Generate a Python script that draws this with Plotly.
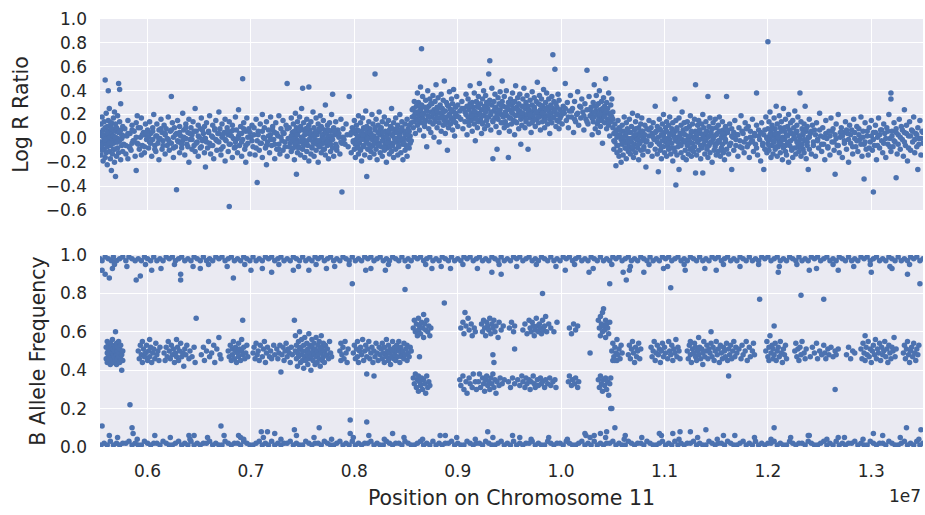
import plotly.graph_objects as go

# ---------------- data (positions in units of 10 kb, values in hundredths) ----------------
LRR_LEFT = [(554,5),(554,-8),(555,12),(555,-3),(555,-14),(556,2),(556,18),(556,-10),(557,7),(557,-5),(557,-19),(558,14),(558,0),(558,-9),(559,49),(559,9),(559,-4),(559,-16),(560,3),(560,21),(560,-12),(561,-7),(561,10),(561,-22),(562,40),(562,6),(562,-2),(562,15),(563,-11),(563,1),(563,25),(564,-6),(564,11),(564,-17),(565,4),(565,-27),(565,13),(566,-1),(566,8),(566,-13),(567,17),(567,-4),(567,2),(568,-9),(568,22),(568,-20),(569,6),(569,-32),(569,12),(570,-3),(570,9),(570,-15),(571,0),(571,19),(571,-8),(572,46),(572,5),(572,-12),(573,41),(573,-2),(573,14),(574,7),(574,-18),(574,29),(575,-6),(575,3),(576,10),(576,-11),
(577,-5),(578,8),(579,-13),(580,2),(581,15),(581,-17),(582,-7),(583,4),(584,-10),(585,11),(585,-4),(586,-2),(587,6),(588,-15),(589,-27),(589,13),(590,-4),(590,19),(591,9),(592,-9),(593,1),(594,17),(594,-14),(595,-6),(596,5),(597,-12),(597,3),(598,12),(599,-1),(600,7),
(601,-8),(602,14),(602,-3),(603,4),(604,-15),(605,9),(605,-1),(606,20),(607,-6),(608,2),(608,-11),(609,12),(610,-4),(611,7),(611,-18),(612,0),(613,16),(614,-9),(614,5),(615,-2),(616,11),(617,-13),(617,3),(618,8),(619,-6),(620,18),(620,-1),(621,-10),(622,6),(623,35),(623,-4),(624,13),(625,-16),(625,1),(626,9),(627,-7),(628,-43),(628,4),(629,15),(630,-3),(631,-12),(631,10),(632,2),(633,-8),(634,21),(634,-2),(635,7),(636,-14),(637,0),(637,12),(638,-5),(639,5),(640,-20),(640,16),(641,-1),(642,9),(643,-9),(643,3),(644,14),(645,-6),(646,25),(646,-11),(647,6),(648,-3),(649,11),(649,-15),(650,1),(651,8),(652,-7),(652,17),(653,-2),(654,4),(655,-12),(655,10),(656,-24),(656,0),(657,13),(658,-8),(659,6),(660,-4),(660,19),(661,-13),(662,2),(663,11),(663,-6),(664,-17),(665,7),(666,-1),(666,15),(667,-10),(668,4),(669,-3),(669,22),(670,8),(671,-14),(672,1),(672,12),(673,-7),(674,5),(675,-19),(675,16),(676,-2),(677,9),(678,-11),(678,3),(679,-57),(679,14),(680,-5),(681,6),(682,-16),(682,11),(683,0),(684,-8),(685,18),(685,-3),(686,7),(687,-12),(688,2),(688,24),(689,-6),(690,10),(691,-15),(691,4),(692,50),(692,-1),(693,13),(694,-9),(695,6),(695,-20),(696,17),(697,-4),(698,8),(699,-13),(700,1),
(701,11),(702,-7),(703,3),(704,-14),(705,16),(706,-37),(706,-2),(707,6),(708,-10),(709,12),(710,-4),(711,20),(711,-16),(712,1),(713,9),(714,-8),(715,-22),(715,14),(716,-3),(717,7),(718,-12),(719,3),(719,18),(720,-6),(721,10),(722,-1),(723,-17),(723,5),(724,13),(725,-9),(726,2),(727,19),(727,-5),(728,-13),(729,8),(730,-2),(731,15),(731,-10),(732,4),(733,-7),(734,11),(735,46),(735,-15),(736,0),(737,9),(738,-4),(739,17),(739,-11),(740,5),(740,-2),(741,12),(741,-8),(742,-18),(742,3),(743,21),(743,-5),(744,-30),(744,9),(744,-1),(745,14),(745,-12),(746,6),(746,-7),(747,-3),(747,18),(748,10),(748,-14),(749,1),(749,25),(750,42),(750,-9),(750,7),(751,-4),(751,13),(752,3),(752,-16),(753,8),(753,-2),(754,-11),(754,16),(755,4),(755,-6),(756,43),(756,11),(756,-19),(757,0),(757,7),(758,-13),(758,14),(759,2),(759,-8),(760,22),(760,-3),(761,9),(761,-15),(762,5),(762,-1),(763,17),(763,-10),(764,3),(764,-5),(765,12),(765,-20),(766,6),(766,-7),(767,-2),(767,19),(768,10),(768,-12),(769,1),(769,8),(770,-4),(770,15),(771,-9),(771,4),(772,28),(772,-14),(773,7),(773,-1),(774,11),(774,-6),(775,-17),(775,2),(776,13),(776,-3),(777,-11),(777,6),(778,20),(778,0),(779,37),(779,-8),(780,9),(780,-15),(781,3),(782,-5),(782,14),(783,-10),(784,7),(785,1),(786,-13),(787,16),(788,-4),(788,-45),(789,8),(790,-1),
(792,12),(794,-7),(795,35),(796,3),(797,-12),(798,9),(799,-3),(800,15),(800,-9),(801,4),(801,-16),(802,-1),(802,11),(803,7),(803,-6),(804,19),(804,-13),(805,2),(805,-4),(806,13),(806,-10),(807,6),(807,-19),(808,0),(808,17),(809,-7),(809,9),(810,3),(810,-14),(811,23),(811,-2),(812,-32),(812,10),(812,5),(813,-9),(813,1),(814,14),(814,-5),(815,-16),(815,8),(816,4),(816,-11),(817,20),(817,-1),(818,-6),(818,12),(819,2),(819,-13),(820,54),(820,7),(820,-3),(821,16),(821,-9),(822,0),(822,-18),(823,11),(823,5),(824,-4),(824,22),(825,-12),(825,3),(826,9),(826,-7),(827,-15),(827,14),(828,1),(828,-2),(829,18),(829,-10),(830,6),(830,-5),(831,-20),(831,12),(832,3),(832,-8),(833,15),(833,-1),(834,-13),(834,7),(835,10),(835,-4),(836,25),(836,-11),(837,2),(837,-6),(838,13),(838,-16),(839,5),(839,0),(840,-9),(840,17),(841,8),(841,-3),(842,-14),(842,11),(843,1),(843,-7),(844,20),(844,4),(845,-12),(845,-2),(846,9),(846,14),(847,-5),(847,-18),(848,6),(848,0),(849,12),(849,-10),(850,3),(850,-6),(851,16),(851,-15),(852,-1),(852,8),(853,-8),(853,11),(854,2),(854,-4),(855,13)]

LRR_LEFT_CORE = [(555,-6),(557,3),(559,-1),(561,5),(563,-4),(565,8),(567,-9),(569,1),(571,-3),(573,6),(575,0),(577,2),(579,-6),(581,4),(583,-8),(585,7),(587,-2),(589,1),(591,-5),(593,9),(595,3),(597,-7),(599,5),(601,1),(603,-4),(605,6),(607,-9),(609,2),(611,-1),(613,8),(615,-6),(617,4),(619,0),(621,-3),(623,7),(625,-8),(627,3),(629,-2),(631,5),(633,-5),(635,1),(637,9),(639,-7),(641,4),(643,-1),(645,6),(647,-4),(649,2),(651,-8),(653,7),(655,0),(657,-3),(659,5),(661,-6),(663,1),(665,8),(667,-2),(669,4),(671,-9),(673,3),(675,-1),(677,6),(679,-5),(681,2),(683,7),(685,-7),(687,0),(689,4),(691,-3),(693,8),(695,-6),(697,1),(699,5),(701,-2),(703,9),(705,-8),(707,3),(709,-4),(711,6),(713,0),(715,-6),(717,2),(719,-1),(721,7),(723,-5),(725,4),(727,-9),(729,1),(731,5),(733,-3),(735,8),(737,-7),(739,2),(741,-1),(742,6),(743,-4),(745,3),(746,-8),(747,7),(749,-2),(750,1),(751,-6),(753,5),(754,-3),(755,9),(757,-1),(758,4),(759,-7),(761,2),(762,-4),(763,6),(765,-2),(766,8),(767,-6),(769,3),(770,-9),(771,0),(773,5),(774,-3),(775,7),(777,-5),(778,2),(779,-1),(781,6),(783,-7),(785,4),(787,-3),(789,1),(791,-5),(793,3),(797,5),(799,-2),(800,7),(801,-5),(803,1),(804,-8),(805,6),(807,-1),(808,3),(809,-6),(811,8),(812,-3),(813,0),(815,5),(816,-7),(817,2),(819,-4),(820,9),(821,-1),(823,-6),(824,4),(825,7),(827,-2),(828,5),(829,-8),(831,1),(832,-4),(833,6),(835,-7),(836,3),(837,8),(839,-3),(840,0),(841,5),(843,-6),(844,2),(845,7),(847,-1),(848,-4),(849,4),(851,-7),(852,3),(853,6),(855,-2)]

LRR_GAIN = [(856,18),(857,25),(857,9),(858,31),(858,14),(859,21),(859,4),(860,27),(860,16),(861,38),(861,11),(862,22),(862,30),(863,7),(863,19),(864,43),(864,24),(865,75),(865,13),(865,28),(866,17),(866,35),(867,2),(867,21),(868,26),(868,10),(869,32),(869,15),(870,-7),(870,23),(871,19),(871,40),(872,8),(872,27),(873,14),(873,33),(874,22),(874,5),(875,29),(875,18),(876,12),(876,36),(877,24),(877,1),(878,16),(878,31),(879,45),(879,20),(880,9),(880,26),(881,34),(881,17),(882,13),(882,-3),(883,28),(883,21),(884,6),(884,37),(885,19),(885,25),(886,11),(886,32),(887,48),(887,15),(888,23),(888,4),(889,30),(889,18),(890,-10),(890,14),(891,27),(891,9),(892,20),(892,39),(893,12),(893,24),(894,33),(894,16),(895,7),(895,29),(896,22),(896,41),(897,18),(897,2),(898,26),(898,13),(899,35),(899,19),(900,10),(900,28),
(902,23),(903,16),(904,31),(905,8),(906,25),(907,14),(908,37),(908,20),(909,27),(909,3),(910,18),(910,33),(911,11),(911,24),(912,29),(912,44),(913,15),(913,21),(914,6),(914,30),(915,26),(915,17),(916,38),(916,12),(917,22),(917,-2),(918,31),(918,19),(919,9),(919,27),(920,35),(920,14),(921,21),(921,46),(922,16),(922,29),(923,4),(923,24),(924,33),(924,13),(925,19),(925,40),(926,27),(926,8),(927,22),(927,36),(928,15),(928,30),(929,25),(929,11),(930,54),(930,18),(931,65),(931,32),(932,20),(932,7),(933,28),(933,42),(934,-17),(934,14),(935,23),(935,31),(936,17),(936,37),(937,10),(937,26),(938,-9),(938,21),(939,34),(939,16),(940,29),(940,5),(941,24),(941,39),(942,13),(942,20),(943,31),(943,48),(944,18),(944,27),(945,9),(945,35),(946,22),(946,14),(947,40),(947,26),(948,11),(948,19),(949,30),(949,-16),(950,24),(950,6),(951,17),(951,33),(952,28),(952,12),(953,21),(953,38),(954,15),(954,25),(955,31),(955,3),(956,19),(956,44),(957,26),(957,13),(958,34),(958,20),(959,8),(959,29),(960,23),(960,37),(961,16),(961,-5),(962,27),(962,11),(963,33),(963,21),(964,18),(964,42),(965,25),(965,9),(966,30),(966,14),(967,20),(967,36),(968,27),(968,-9),(969,12),(969,24),(970,32),(970,17),(971,22),(971,5),(972,39),(972,28),(973,15),(973,19),(974,26),(974,34),(975,10),(975,23),(976,31),(976,16),(977,21),(977,47),(978,13),(978,29),(979,36),(979,18),(980,24),(980,7),(981,33),(981,20),(982,14),(982,27),(983,41),(983,22),(984,17),(984,9),(985,30),(985,25),(986,19),(986,38),(987,12),(987,26),(988,23),(988,33),(989,16),(989,4),(990,28),(990,21),(991,35),(991,13),(992,70),(992,25),(993,18),(993,31),(994,58),(994,22),(995,10),(995,29),(996,26),(996,15),(997,20),(997,37),(998,32),(998,8),(999,24),(999,17),
(1000,19),(1001,12),(1002,27),(1003,21),(1004,46),(1005,15),(1006,30),(1007,9),(1008,23),(1009,36),(1010,18),(1011,25),(1012,5),(1013,31),(1014,14),(1015,20),(1016,39),(1017,11),(1018,27),(1019,17),(1020,33),(1021,22),(1022,7),(1023,29),(1024,16),(1025,57),(1025,24),(1026,12),(1027,35),(1028,19),(1029,26),(1030,3),(1030,21),(1031,30),(1031,14),(1032,45),(1032,18),(1033,8),(1033,27),(1034,23),(1034,36),(1035,12),(1035,20),(1036,29),(1036,5),(1037,17),(1037,40),(1038,24),(1038,10),(1039,31),(1039,15),(1040,22),(1040,-4),(1041,19),(1041,34),(1042,13),(1042,27),(1043,50),(1043,21),(1044,8),(1044,30),(1045,16),(1045,25),(1046,38),(1046,11),(1047,20),(1047,2),(1048,28),(1048,14),(1049,18),(1049,33),(1050,9),(1050,22)]

LRR_GAIN_CORE = [(856,24),(858,19),(860,22),(862,15),(864,27),(866,20),(868,13),(870,25),(872,18),(874,29),(876,21),(878,14),(880,23),(882,26),(884,17),(886,22),(888,12),(890,28),(892,19),(894,24),(896,15),(898,21),(901,18),(904,25),(907,22),(910,14),(912,27),(914,19),(916,23),(918,16),(920,26),(922,20),(924,12),(926,24),(928,18),(930,29),(932,22),(934,15),(936,25),(938,19),(940,23),(942,28),(944,13),(946,21),(948,26),(950,17),(952,22),(954,30),(956,14),(958,24),(960,19),(962,21),(964,27),(966,16),(968,23),(970,20),(972,13),(974,25),(976,22),(978,18),(980,28),(982,21),(984,15),(986,24),(988,19),(990,26),(992,17),(994,23),(996,20),(998,14),(1001,22),(1004,25),(1007,18),(1010,23),(1013,16),(1016,21),(1019,26),(1022,19),(1025,14),(1028,24),(1030,17),(1032,22),(1034,27),(1036,15),(1038,20),(1040,25),(1042,18),(1044,23),(1046,14),(1048,21),(1050,16)]

LRR_RIGHT = [(1051,4),(1051,-9),(1052,12),(1052,-3),(1053,-23),(1053,7),(1054,-12),(1054,1),(1055,15),(1055,-6),(1056,-15),(1056,9),(1057,3),(1057,-10),(1058,-1),(1058,-20),(1059,11),(1059,-5),(1060,6),(1060,-14),(1061,-2),(1061,18),(1062,-8),(1062,2),(1063,13),(1063,-17),(1064,-4),(1064,8),(1065,-11),(1065,0),(1066,16),(1066,-7),(1067,5),(1067,-13),(1068,-3),(1068,10),(1069,-9),(1069,21),(1070,1),(1070,-16),(1071,7),(1071,-5),(1072,-12),(1072,14),(1073,3),(1073,-1),(1074,-8),(1074,19),(1075,9),(1075,-18),(1076,-4),(1076,5),(1077,12),(1077,-10),(1078,-2),(1078,17),(1079,-14),(1079,6),(1080,0),(1080,-7),(1081,11),(1082,-24),(1082,-3),(1083,8),(1084,-11),(1085,15),(1085,2),(1086,-6),(1087,9),(1088,-15),(1088,4),(1089,13),(1090,-1),(1091,-9),(1091,27),(1092,6),(1093,-13),(1093,10),(1094,-28),(1094,1),(1095,16),(1095,-5),(1096,-10),(1096,7),(1097,3),(1097,-17),(1098,12),(1098,-2),(1099,-7),(1099,20),(1100,5),(1100,-12),
(1101,-3),(1101,9),(1102,14),(1102,-15),(1103,0),(1103,-6),(1104,11),(1104,-9),(1105,-1),(1105,18),(1106,-13),(1106,4),(1107,8),(1107,-4),(1108,-19),(1108,13),(1109,2),(1109,-8),(1110,33),(1110,-11),(1110,6),(1111,-39),(1111,15),(1111,-2),(1112,-14),(1112,9),(1113,1),(1113,-7),(1114,17),(1114,-26),(1115,-5),(1115,4),(1116,11),(1116,-12),(1117,-1),(1117,22),(1118,7),(1118,-16),(1119,-3),(1119,13),(1120,3),(1120,-10),(1121,-18),(1121,8),(1122,14),(1122,-6),(1123,0),(1123,-13),(1124,10),(1124,-2),(1125,-9),(1125,19),(1126,5),(1126,-15),(1127,-4),(1127,12),(1128,1),(1128,-11),(1129,16),(1129,-7),(1130,45),(1130,-29),(1130,6),(1131,-14),(1131,2),(1132,11),(1132,-3),(1133,-10),(1133,15),(1134,-1),(1134,7),(1135,-17),(1135,4),(1136,12),(1136,-8),(1137,-29),(1137,20),(1137,0),(1138,-5),(1138,9),(1139,-13),(1139,3),(1140,14),(1140,-2),(1141,-9),(1141,6),(1142,35),(1142,-16),(1142,1),(1143,10),(1143,-6),(1144,-12),(1144,17),(1145,-3),(1145,5),(1146,8),(1146,-20),(1147,-1),(1147,13),(1148,-10),(1148,2),(1149,16),(1149,-7),(1150,-14),(1150,9),(1151,4),(1151,-4),(1152,11),(1152,-11),(1153,-2),(1153,18),(1154,6),(1154,-15),(1155,-8),(1155,1),(1156,14),(1156,-5),(1157,-12),(1157,7),(1158,3),(1158,-18),(1159,10),(1159,-1),(1160,35),(1160,-9),
(1161,5),(1162,-13),(1163,12),(1164,-4),(1165,-26),(1165,8),(1166,1),(1167,-10),(1168,15),(1169,-6),(1170,3),(1171,-15),(1172,9),(1173,-2),(1174,19),(1175,-8),(1176,4),(1177,-12),(1178,13),(1179,0),(1180,-7),(1181,10),(1182,-16),(1183,6),(1184,-3),(1185,16),(1186,-11),(1187,2),(1188,-5),(1189,38),(1189,11),(1190,-14),(1191,7),(1192,-1),(1193,-19),(1194,13),(1195,-6),(1196,3),(1196,-26),(1197,-9),(1198,18),(1199,1),(1199,-12),(1200,81),(1200,8),(1200,-4),(1201,14),(1201,-10),(1202,-1),(1202,22),(1203,5),(1203,-16),(1204,-6),(1204,11),(1205,2),(1205,-13),(1206,17),(1206,-3),(1207,-9),(1207,8),(1208,27),(1208,0),(1209,-15),(1209,12),(1210,4),(1210,-7),(1211,-2),(1211,19),(1212,9),(1212,-12),(1213,-5),(1213,14),(1214,1),(1214,-18),(1215,25),(1215,-8),(1216,6),(1216,-1),(1217,-11),(1217,16),(1218,3),(1218,-14),(1219,10),(1219,-4),(1220,-20),(1220,20),(1221,7),(1221,-6),(1222,-2),(1222,13),(1223,-10),(1223,4),(1224,15),(1224,-16),(1225,0),(1225,9),(1226,-8),(1226,23),(1227,5),(1227,-13),(1228,11),(1228,-3),(1229,-7),(1229,18),(1230,2),(1230,-11),(1231,38),(1231,-1),(1232,14),(1232,-15),(1233,-5),(1233,8),(1234,-9),(1234,3),(1235,12),(1235,-12),(1236,27),(1236,-2),(1237,6),(1237,-17),(1238,10),(1238,-6),(1239,-26),(1239,1),(1240,16),(1240,-9),
(1241,4),(1242,-13),(1243,11),(1244,-3),(1245,7),(1246,-15),(1247,13),(1248,-1),(1249,-8),(1250,21),(1251,2),(1252,-11),(1253,9),(1254,-5),(1255,-18),(1256,15),(1257,0),(1258,-7),(1259,6),(1260,-14),(1261,17),(1262,-3),(1263,8),(1264,-10),(1265,-30),(1265,3),(1266,12),(1267,-6),(1268,20),(1269,-12),(1270,1),(1271,9),(1272,-16),(1273,5),(1274,-2),(1275,14),(1276,-9),(1277,4),(1278,-20),(1279,11),(1280,-4),(1281,7),(1282,-13),(1283,16),(1284,0),(1285,-7),(1286,10),(1287,-11),(1288,3),(1289,-1),(1290,18),(1291,-15),(1292,6),(1293,-34),(1293,-5),(1294,13),(1295,-9),(1296,2),(1297,-14),(1298,9),(1299,-3),(1300,15),(1301,-10),(1302,-45),(1302,5),(1303,-6),(1304,11),(1305,-18),(1306,1),(1307,17),(1308,-8),(1309,7),(1310,-2),(1311,-12),(1312,12),(1313,4),(1314,-16),(1315,9),(1316,-5),(1317,20),(1318,0),(1319,38),(1319,33),(1319,-11),(1320,6),(1321,-7),(1322,13),(1323,-3),(1324,-33),(1324,8),(1325,-13),(1326,3),(1327,16),(1328,-9),(1329,10),(1330,-1),(1331,-15),(1332,24),(1332,5),(1333,-6),(1334,11),(1335,-19),(1336,2),(1337,14),(1338,-10),(1339,7),(1340,-3),(1341,18),(1342,-12),(1343,4),(1344,-7),(1345,-26),(1345,9),(1346,0),(1347,15),(1348,-14),(1349,6),(1350,-4)]

LRR_RIGHT_CORE = [(1051,-2),(1053,5),(1054,-6),(1056,2),(1057,7),(1059,-4),(1060,1),(1062,-8),(1063,4),(1065,6),(1066,-3),(1068,0),(1069,-7),(1071,3),(1072,8),(1074,-1),(1075,-5),(1077,2),(1078,6),(1080,-9),(1081,3),(1083,-2),(1085,7),(1087,-5),(1089,1),(1091,5),(1093,-3),(1095,8),(1097,-7),(1099,2),(1101,-1),(1102,6),(1104,-4),(1105,3),(1107,-8),(1109,5),(1110,0),(1112,7),(1113,-3),(1115,1),(1116,-6),(1118,4),(1120,-2),(1121,8),(1123,-5),(1124,2),(1126,6),(1127,-8),(1129,0),(1131,4),(1132,-3),(1134,7),(1135,-6),(1137,3),(1138,-1),(1140,5),(1141,-7),(1143,2),(1144,-4),(1146,8),(1147,1),(1149,-5),(1150,3),(1152,-2),(1153,6),(1155,-9),(1156,4),(1158,0),(1159,-3),(1161,7),(1163,-6),(1165,2),(1167,5),(1169,-1),(1171,3),(1173,-7),(1175,6),(1177,-3),(1179,8),(1181,-5),(1183,1),(1185,-2),(1187,4),(1189,-8),(1191,2),(1193,5),(1195,-4),(1197,7),(1199,0),(1201,-6),(1202,3),(1204,8),(1205,-2),(1207,4),(1208,-7),(1210,1),(1211,-4),(1213,6),(1214,-1),(1216,9),(1217,-6),(1219,2),(1220,-3),(1222,5),(1223,-8),(1225,3),(1226,0),(1228,6),(1229,-4),(1231,2),(1232,-7),(1234,5),(1235,-1),(1237,8),(1238,-3),(1240,1),(1242,6),(1244,-6),(1246,3),(1248,-2),(1250,7),(1252,-5),(1254,1),(1256,4),(1258,-8),(1260,2),(1262,6),(1264,-3),(1266,0),(1268,-6),(1270,5),(1272,2),(1274,-4),(1276,7),(1278,-1),(1280,3),(1282,-7),(1284,5),(1286,-2),(1288,8),(1290,-5),(1292,1),(1294,-3),(1296,6),(1298,-8),(1300,2),(1302,-1),(1304,5),(1306,-6),(1308,3),(1310,7),(1312,-4),(1314,0),(1316,6),(1318,-7),(1320,2),(1322,-2),(1324,5),(1326,-5),(1328,1),(1330,7),(1332,-3),(1334,4),(1336,-8),(1338,2),(1340,6),(1342,-1),(1344,3),(1346,-5),(1348,0),(1350,5)]

BAF_HI = [(554,98),(556,97),(559,99),(562,98),(565,97),(567,99),(570,97),(573,98),(576,99),(579,97),(582,99),(585,98),(588,97),(591,98),(594,97),(597,99),(600,98),(603,97),(606,99),(609,97),(612,98),(615,97),(618,99),(621,98),(624,99),(627,97),(630,98),(633,99),(636,97),(639,98),(642,97),(645,99),(648,98),(651,97),(654,99),(657,97),(660,98),(663,97),(666,99),(669,98),(672,99),(675,97),(678,98),(681,99),(684,97),(687,98),(690,97),(693,99),(696,98),(699,97),(702,99),(705,97),(708,98),(711,97),(714,99),(717,98),(720,99),(723,97),(726,98),(729,99),(732,97),(735,98),(738,97),(741,99),(744,98),(747,97),(750,99),(753,97),(756,98),(759,97),(762,99),(765,98),(768,99),(771,97),(774,98),(777,99),(780,97),(783,98),(786,97),(789,99),(792,98),(795,97),(798,99),(801,97),(804,98),(807,97),(810,99),(813,98),(816,99),(819,97),(822,98),(825,99),(828,97),(831,98),(834,97),(837,99),(840,98),(843,97),(846,99),(849,97),(852,98),(855,97),(858,99),(861,98),(864,99),(867,97),(870,98),(873,99),(876,97),(879,98),(882,97),(885,99),(888,98),(891,97),(894,99),(897,97),(900,98),(903,97),(906,99),(909,98),(912,99),(915,97),(918,98),(921,99),(924,97),(927,98),(930,97),(933,99),(936,98),(939,97),(942,99),(945,97),(948,98),(951,97),(954,99),(957,98),(960,99),(963,97),(966,98),(969,99),(972,97),(975,98),(978,97),(981,99),(984,98),(987,97),(990,99),(993,97),(996,98),(999,97),(1002,99),(1005,98),(1008,99),(1011,97),(1014,98),(1017,99),(1020,97),(1023,98),(1026,97),(1029,99),(1032,98),(1035,97),(1038,99),(1041,97),(1044,98),(1047,97),(1050,99),(1053,98),(1056,99),(1059,97),(1062,98),(1065,99),(1068,97),(1071,98),(1074,97),(1077,99),(1080,98),(1083,97),(1086,99),(1089,97),(1092,98),(1095,97),(1098,99),(1101,98),(1104,99),(1107,97),(1110,98),(1113,99),(1116,97),(1119,98),(1122,97),(1125,99),(1128,98),(1131,97),(1134,99),(1137,97),(1140,98),(1143,97),(1146,99),(1149,98),(1152,99),(1155,97),(1158,98),(1161,99),(1164,97),(1167,98),(1170,97),(1173,99),(1176,98),(1179,97),(1182,99),(1185,97),(1188,98),(1191,97),(1194,99),(1197,98),(1200,99),(1203,97),(1206,98),(1209,99),(1212,97),(1215,98),(1218,97),(1221,99),(1224,98),(1227,97),(1230,99),(1233,97),(1236,98),(1239,97),(1242,99),(1245,98),(1248,99),(1251,97),(1254,98),(1257,99),(1260,97),(1263,98),(1266,97),(1269,99),(1272,98),(1275,97),(1278,99),(1281,97),(1284,98),(1287,97),(1290,99),(1293,98),(1296,99),(1299,97),(1302,98),(1305,99),(1308,97),(1311,98),(1314,97),(1317,99),(1320,98),(1323,97),(1326,99),(1329,97),(1332,98),(1335,97),(1338,99),(1341,98),(1344,99),(1347,97),(1350,98)]

BAF_LO = [(555,1),(558,2),(561,1),(564,3),(567,1),(570,2),(573,1),(576,2),(579,2),(582,3),(585,1),(588,2),(591,1),(594,1),(597,3),(600,2),(603,1),(606,2),(609,2),(612,1),(615,3),(618,2),(621,1),(624,1),(627,2),(630,3),(633,1),(636,2),(639,1),(642,3),(645,1),(648,2),(651,1),(654,2),(657,2),(660,3),(663,1),(666,2),(669,1),(672,1),(675,3),(678,2),(681,1),(684,2),(687,2),(690,1),(693,3),(696,2),(699,1),(702,1),(705,2),(708,3),(711,1),(714,2),(717,1),(720,3),(723,1),(726,2),(729,1),(732,2),(735,2),(738,3),(741,1),(744,2),(747,1),(750,1),(753,3),(756,2),(759,1),(762,2),(765,2),(768,1),(771,3),(774,2),(777,1),(780,1),(783,2),(786,3),(789,1),(792,2),(795,1),(798,3),(801,1),(804,2),(807,1),(810,2),(813,2),(816,3),(819,1),(822,2),(825,1),(828,1),(831,3),(834,2),(837,1),(840,2),(843,2),(846,1),(849,3),(852,2),(855,1),(858,1),(861,2),(864,3),(867,1),(870,2),(873,1),(876,3),(879,1),(882,2),(885,1),(888,2),(891,2),(894,3),(897,1),(900,2),(903,1),(906,1),(909,3),(912,2),(915,1),(918,2),(921,2),(924,1),(927,3),(930,2),(933,1),(936,1),(939,2),(942,3),(945,1),(948,2),(951,1),(954,3),(957,1),(960,2),(963,1),(966,2),(969,2),(972,3),(975,1),(978,2),(981,1),(984,1),(987,3),(990,2),(993,1),(996,2),(999,2),(1002,1),(1005,3),(1008,2),(1011,1),(1014,1),(1017,2),(1020,3),(1023,1),(1026,2),(1029,1),(1032,3),(1035,1),(1038,2),(1041,1),(1044,2),(1047,2),(1050,3),(1053,1),(1056,2),(1059,1),(1062,1),(1065,3),(1068,2),(1071,1),(1074,2),(1077,2),(1080,1),(1083,3),(1086,2),(1089,1),(1092,1),(1095,2),(1098,3),(1101,1),(1104,2),(1107,1),(1110,3),(1113,1),(1116,2),(1119,1),(1122,2),(1125,2),(1128,3),(1131,1),(1134,2),(1137,1),(1140,1),(1143,3),(1146,2),(1149,1),(1152,2),(1155,2),(1158,1),(1161,3),(1164,2),(1167,1),(1170,1),(1173,2),(1176,3),(1179,1),(1182,2),(1185,1),(1188,3),(1191,1),(1194,2),(1197,1),(1200,2),(1203,2),(1206,3),(1209,1),(1212,2),(1215,1),(1218,1),(1221,3),(1224,2),(1227,1),(1230,2),(1233,2),(1236,1),(1239,3),(1242,2),(1245,1),(1248,1),(1251,2),(1254,3),(1257,1),(1260,2),(1263,1),(1266,3),(1269,1),(1272,2),(1275,1),(1278,2),(1281,2),(1284,3),(1287,1),(1290,2),(1293,1),(1296,1),(1299,3),(1302,2),(1305,1),(1308,2),(1311,2),(1314,1),(1317,3),(1320,2),(1323,1),(1326,1),(1329,2),(1332,3),(1335,1),(1338,2),(1341,1),(1344,3),(1347,1),(1350,2)]

BAF_BAND_FRINGE = [(568,95),(580,94),(598,95),(613,93),(626,95),(644,94),(659,95),(677,94),(694,95),(711,93),(727,95),(746,94),(763,95),(781,94),(795,95),(816,93),(833,95),(852,94),(869,95),(884,94),(905,95),(919,93),(940,95),(957,94),(976,95),(995,94),(1013,95),(1031,93),(1049,95),(1067,94),(1085,95),(1103,94),(1119,95),(1139,93),(1157,95),(1173,94),(1191,95),(1211,94),(1228,95),(1247,93),(1263,95),(1283,94),(1299,95),(1318,94),(1337,95),
(571,5),(590,4),(607,6),(622,5),(641,4),(658,5),(674,6),(693,4),(712,5),(729,4),(744,6),(761,5),(778,4),(799,5),(814,6),(829,4),(848,5),(866,4),(883,6),(899,5),(917,4),(934,5),(953,6),(971,4),(988,5),(1006,4),(1024,6),(1043,5),(1061,4),(1078,5),(1097,6),(1114,4),(1132,5),(1151,4),(1168,6),(1187,5),(1203,4),(1222,5),(1239,6),(1257,4),(1274,5),(1292,4),(1311,6),(1328,5),(1346,4)]

BAF_OUTLIERS = [(556,92),(559,90),(563,88),(566,93),(589,87),(593,89),(604,92),(632,90),(632,87),(651,93),(683,88),(700,92),(720,91),(741,92),(756,92),(773,93),(798,85),(811,92),(830,92),(849,82),(875,93),(887,75),(893,93),(933,91),(942,90),(982,80),(1004,92),(1027,91),(1047,85),(1063,87),(1060,91),(1066,92),(1080,91),(1099,93),(1106,83),(1120,92),(1150,92),(1192,77),(1210,91),(1232,79),(1240,92),(1254,77),(1268,92),(1300,91),(1320,93),(1335,90),(1347,85),
(556,11),(563,6),(583,22),(585,10),(586,7),(640,6),(645,6),(671,11),(688,6),(690,5),(710,8),(716,8),(723,7),(742,9),(766,10),(796,14),(796,7),(812,13),(837,7),(888,6),(929,8),(960,5),(1023,7),(1028,5),(1032,6),(1038,7),(1044,8),(1049,20),(1052,10),(1062,6),(1095,7),(1108,7),(1115,8),(1125,8),(1140,9),(1157,6),(1206,10),(1240,6),(1268,5),(1302,7),(1334,10),(1348,9),
(647,67),(692,66),(742,66),(863,47),(907,70),(934,48),(935,44),(955,51),(1028,49),(1041,72),(1048,20),(1050,45),(1054,45),(1145,60),(1206,63),(1265,30)]

BAF_HET_NORMAL = [(560,52),(560,46),(561,49),(561,55),(561,44),(562,50),(562,47),(562,53),(563,45),(563,51),(563,48),(564,54),(564,43),(564,50),(565,47),(565,52),(565,45),(566,49),(566,56),(566,46),(567,51),(567,44),(567,48),(568,53),(568,47),(568,50),(569,45),(569,52),(569,60),(570,48),(570,54),(570,43),(571,50),(571,46),(571,52),(572,47),(572,55),(573,44),(573,49),(573,51),(574,46),(574,53),(575,40),(575,48),(576,50),(576,45),
(591,50),(592,46),(593,53),(594,48),(595,55),(595,44),(596,51),(597,47),(598,49),(599,53),(600,45),(601,50),(602,56),(602,47),(603,52),(604,44),(605,49),(606,51),(607,46),(608,54),(609,48),(610,50),(611,45),(612,52),
(616,49),(617,45),(618,52),(619,47),(620,55),(621,50),(622,46),(623,53),(624,48),(625,51),(626,44),(627,49),(628,56),(628,47),(629,52),(630,45),(631,50),(632,54),(633,47),(634,49),(635,42),(636,51),(637,48),(638,53),(640,46),(641,50),(643,47),(645,52),(646,44),
(652,48),(654,52),(655,45),(657,50),(659,55),(660,47),(662,49),(664,53),(665,44),(667,51),(669,57),(670,48),(671,46),
(678,50),(679,47),(680,53),(681,45),(682,51),(682,48),(683,55),(684,46),(685,50),(685,52),(686,44),(687,49),(688,54),(688,47),(689,51),(690,45),(691,50),(691,56),(692,48),(693,52),(694,46),(695,49),(696,53),(697,47),
(702,49),(703,52),(704,46),(705,54),(706,48),(707,50),(708,45),(709,53),(711,47),(712,51),(713,55),(714,44),(715,49),(716,52),(718,47),(719,50),(720,46),(722,53),(723,48),
(725,51),(726,46),(727,49),(728,53),(729,39),(730,48),(731,52),(732,45),(733,50),(734,54),(735,47),(736,51),(737,49),(738,44),(739,52),(740,48),
(743,50),(743,58),(744,46),(744,53),(745,49),(745,42),(746,55),(746,47),(747,51),(747,60),(748,44),(748,52),(749,48),(749,56),(750,45),(750,50),(751,53),(751,41),(752,47),(752,57),(753,50),(753,45),(754,54),(754,48),(755,43),(755,51),(756,59),(756,46),(757,49),(757,53),(758,40),(758,47),(759,52),(759,56),(760,45),(760,50),(761,48),(761,54),(762,43),(762,51),(763,57),(763,47),(764,50),(764,44),(765,53),(765,48),(766,46),(766,55),(767,51),(767,42),(768,49),(768,58),(769,45),(769,52),(770,47),(770,54),(771,50),(771,44),(772,53),(773,48),(774,51),(775,46),(776,55),(777,49),(778,47),
(786,50),(787,45),(787,54),(788,48),(789,52),(790,46),(791,55),(792,49),(793,44),(794,51),
(799,49),(800,53),(801,46),(802,51),(803,55),(803,47),(804,44),(805,50),(806,52),(807,48),(808,56),(809,45),(810,50),(811,53),(812,47),(812,38),(813,51),(814,55),(815,46),(816,49),(817,52),(818,44),(819,50),(819,37),(820,47),(821,54),(822,49),(823,45),(824,52),(825,48),
(826,51),(827,46),(827,54),(828,49),(829,44),(829,52),(830,48),(831,56),(831,47),(832,50),(833,53),(833,45),(834,49),(835,51),(835,43),(836,47),(837,55),(837,50),(838,46),(839,52),(839,48),(840,45),(841,53),(841,50),(842,47),(843,51),(843,55),(844,44),(845,49),(845,52),(846,47),(847,50),(848,54),(848,46),(849,48),(850,51),(851,45),(851,53),(852,49),(853,47),(854,52),(855,50),
(1049,50),(1050,54),(1051,47),(1052,52),(1052,45),(1053,49),(1054,56),(1055,48),(1056,51),(1057,46),(1058,53),(1059,49),
(1065,48),(1066,53),(1067,46),(1068,51),(1069,55),(1070,49),(1071,44),(1072,52),(1073,47),(1074,50),(1075,54),(1076,46),(1077,51),
(1087,52),(1088,47),(1089,50),(1090,55),(1091,45),(1092,49),(1093,53),(1094,48),(1095,51),(1096,44),(1097,50),(1098,54),(1099,47),(1100,52),(1101,49),(1103,46),(1104,55),(1105,50),(1106,48),(1107,53),(1108,45),(1109,51),(1110,49),(1111,56),(1112,47),(1113,52),(1114,50),(1115,46),
(1122,50),(1123,46),(1124,53),(1125,48),(1125,55),(1126,44),(1127,51),(1128,49),(1129,54),(1130,47),(1130,52),(1131,45),(1132,50),(1133,57),(1133,48),(1134,52),(1135,46),(1136,51),(1137,49),(1137,43),(1138,55),(1139,47),(1140,50),(1141,53),(1142,46),(1143,51),
(1144,49),(1145,54),(1146,47),(1147,52),(1148,45),(1149,50),(1150,55),(1151,48),(1152,51),(1153,44),(1154,53),(1155,49),(1156,46),(1157,52),(1158,50),(1159,47),(1160,54),(1161,45),(1162,37),(1162,51),(1163,48),(1164,53),(1165,46),(1166,50),(1167,55),(1168,47),(1169,52),(1170,49),
(1172,51),(1174,46),(1175,53),(1176,48),(1178,50),(1179,55),(1180,45),(1182,52),(1183,47),(1185,50),(1186,54),(1187,48),
(1198,50),(1199,55),(1200,47),(1201,52),(1201,45),(1202,58),(1203,49),(1204,53),(1205,46),(1205,51),(1206,48),(1207,54),(1208,45),(1209,50),(1210,52),(1211,47),(1212,55),(1213,49),(1214,44),(1215,51),(1216,48),(1217,53),(1218,46),
(1226,50),(1227,54),(1228,47),(1229,51),(1230,45),(1231,52),(1232,48),(1233,55),(1235,49),(1236,46),(1237,51),
(1241,47),(1243,52),(1245,49),(1247,54),(1248,46),(1250,50),(1252,48),(1254,53),(1255,49),(1256,46),(1258,51),(1259,48),(1261,52),(1263,47),(1265,50),(1266,48),(1268,51),
(1276,48),(1278,52),(1280,46),(1282,50),(1284,49),
(1290,51),(1291,46),(1292,54),(1293,49),(1294,58),(1294,45),(1295,52),(1296,48),(1297,55),(1298,47),(1299,51),(1300,44),(1301,50),(1302,53),(1303,48),(1304,56),(1305,46),(1306,51),(1307,49),(1308,54),(1309,45),(1310,52),(1311,48),(1312,50),(1313,55),(1314,47),(1315,51),(1316,44),(1317,53),(1318,49),(1319,46),(1320,52),(1321,50),(1322,57),(1323,47),(1324,51),
(1331,49),(1332,53),(1333,46),(1334,51),(1335,55),(1336,48),(1337,44),(1338,50),(1339,52),(1340,47),(1341,54),(1342,49),(1343,45),(1344,51),(1345,48),(1346,53)]

BAF_GAIN_UPPER = [(857,62),(858,66),(859,60),(860,64),(861,58),(862,67),(862,61),(863,63),(864,59),(865,65),(866,62),(867,69),(867,57),(868,64),(869,61),(870,66),(871,60),(872,63),(873,58),(874,62),
(903,62),(905,65),(906,59),(908,63),(910,67),(911,61),(913,64),(914,58),(916,62),(917,60),
(923,64),(924,60),(925,66),(926,62),(927,58),(928,65),(929,63),(930,61),(931,67),(932,59),(933,64),(934,62),(935,66),(936,60),(937,63),(939,57),(940,65),(942,61),(944,63),
(950,62),(952,65),(954,60),(955,63),
(963,61),(965,64),(967,59),(969,66),(970,62),(971,60),(972,65),(973,63),(974,58),(975,61),(976,67),(977,63),(978,60),(979,64),(980,62),(981,59),(982,66),(983,61),(984,63),(985,68),(986,60),(988,64),(990,62),(993,60),(996,65),
(1008,62),(1010,59),(1012,64),(1014,61),(1016,63),
(1036,66),(1037,62),(1038,68),(1038,58),(1039,64),(1040,60),(1040,70),(1041,63),(1042,61),(1043,66),(1043,57),(1044,64),(1045,62),(1046,59),(1047,65)]

BAF_GAIN_LOWER = [(857,36),(858,33),(859,38),(860,31),(861,35),(862,29),(862,37),(863,34),(864,32),(865,36),(866,30),(867,35),(868,33),(869,28),(870,37),(871,31),(872,34),(873,32),
(902,35),(903,32),(905,37),(906,30),(908,34),(909,28),(911,36),(912,33),(914,31),(915,38),(917,34),(918,30),
(920,34),(921,38),(922,31),(924,36),(925,33),(926,29),(927,35),(928,37),(929,32),(930,34),(931,30),(932,36),(933,33),(934,38),(935,31),(936,35),(937,28),(938,34),(940,32),(941,36),(943,33),(945,35),
(949,34),(951,31),(953,36),(955,33),
(958,35),(960,32),(962,37),(963,34),(965,31),(966,36),(967,33),(969,35),(970,30),(971,34),(973,37),(974,33),(975,31),(977,35),(978,32),(980,36),(981,33),(982,34),(984,31),(985,35),(987,33),(989,36),(990,32),(992,34),(994,35),(995,31),
(1007,34),(1008,37),(1010,32),(1011,35),(1013,33),(1014,36),(1016,31),(1017,34),
(1036,35),(1037,31),(1038,37),(1039,33),(1040,29),(1041,35),(1042,32),(1043,36),(1044,30),(1045,34),(1046,27),(1047,33),(1048,36)]

X_TICK_VALUES = [6e6, 7e6, 8e6, 9e6, 10e6, 11e6, 12e6, 13e6]
X_TICK_LABELS = ["0.6", "0.7", "0.8", "0.9", "1.0", "1.1", "1.2", "1.3"]
LRR_TICK_VALUES = [-0.6, -0.4, -0.2, 0.0, 0.2, 0.4, 0.6, 0.8, 1.0]
LRR_TICK_LABELS = ["\u22120.6", "\u22120.4", "\u22120.2", "0.0", "0.2", "0.4", "0.6", "0.8", "1.0"]
BAF_TICK_VALUES = [0.0, 0.2, 0.4, 0.6, 0.8, 1.0]
BAF_TICK_LABELS = ["0.0", "0.2", "0.4", "0.6", "0.8", "1.0"]
X_OFFSET_LABEL = "1e7"

POS_UNIT = 1e4     # positions above are in units of 10 kb
VAL_UNIT = 100.0   # values above are in hundredths


def unpack(*segments):
    xs, ys = [], []
    for seg in segments:
        for p, v in seg:
            xs.append(p * POS_UNIT)
            ys.append(v / VAL_UNIT)
    return xs, ys


lrr_x, lrr_y = unpack(LRR_LEFT, LRR_LEFT_CORE, LRR_GAIN, LRR_GAIN_CORE, LRR_RIGHT, LRR_RIGHT_CORE)
baf_x, baf_y = unpack(BAF_HI, BAF_LO, BAF_BAND_FRINGE, BAF_OUTLIERS, BAF_HET_NORMAL,
                      BAF_GAIN_UPPER, BAF_GAIN_LOWER)

BLUE = "#4C72B0"
TEXT = "#262626"
FONT = "DejaVu Sans"

fig = go.Figure()
marker = dict(color=BLUE, size=5.5, line=dict(width=0))
fig.add_trace(go.Scatter(x=lrr_x, y=lrr_y, mode="markers", marker=marker,
                         xaxis="x", yaxis="y", showlegend=False, hoverinfo="skip"))
fig.add_trace(go.Scatter(x=baf_x, y=baf_y, mode="markers", marker=marker,
                         xaxis="x2", yaxis="y2", showlegend=False, hoverinfo="skip"))

grid = dict(showgrid=True, gridcolor="white", gridwidth=1.3, zeroline=False,
            showline=False, ticks="", tickfont=dict(family=FONT, size=17, color=TEXT))
xr = [5.54e6, 13.5e6]

fig.update_layout(
    width=925, height=515,
    margin=dict(l=100, r=2, t=19, b=68),
    paper_bgcolor="white", plot_bgcolor="#EAEAF2",
    font=dict(family=FONT, color=TEXT),
    xaxis=dict(domain=[0, 1], anchor="y", range=xr, tickvals=X_TICK_VALUES,
               showticklabels=False, **grid),
    xaxis2=dict(domain=[0, 1], anchor="y2", range=xr, matches="x", tickvals=X_TICK_VALUES,
                ticktext=X_TICK_LABELS, ticklabelstandoff=12,
                title=dict(text="Position on Chromosome 11", standoff=10,
                           font=dict(family=FONT, size=20.5, color=TEXT)), **grid),
    yaxis=dict(domain=[0.5537, 1.0], anchor="x", range=[-0.6, 1.0],
               tickvals=LRR_TICK_VALUES, ticktext=LRR_TICK_LABELS, ticklabelstandoff=12,
               title=dict(text="Log R Ratio", standoff=11,
                          font=dict(family=FONT, size=20.5, color=TEXT)), **grid),
    yaxis2=dict(domain=[0.0, 0.4486], anchor="x2", range=[0.0, 1.0],
                tickvals=BAF_TICK_VALUES, ticktext=BAF_TICK_LABELS, ticklabelstandoff=12,
                title=dict(text="B Allele Frequency", standoff=8,
                           font=dict(family=FONT, size=20.5, color=TEXT)), **grid),
    annotations=[dict(text=X_OFFSET_LABEL, xref="paper", yref="paper", x=1.0, y=-0.115,
                      xanchor="right", yanchor="middle", showarrow=False,
                      font=dict(family=FONT, size=17, color=TEXT))],
)

fig.write_html("out.html")
